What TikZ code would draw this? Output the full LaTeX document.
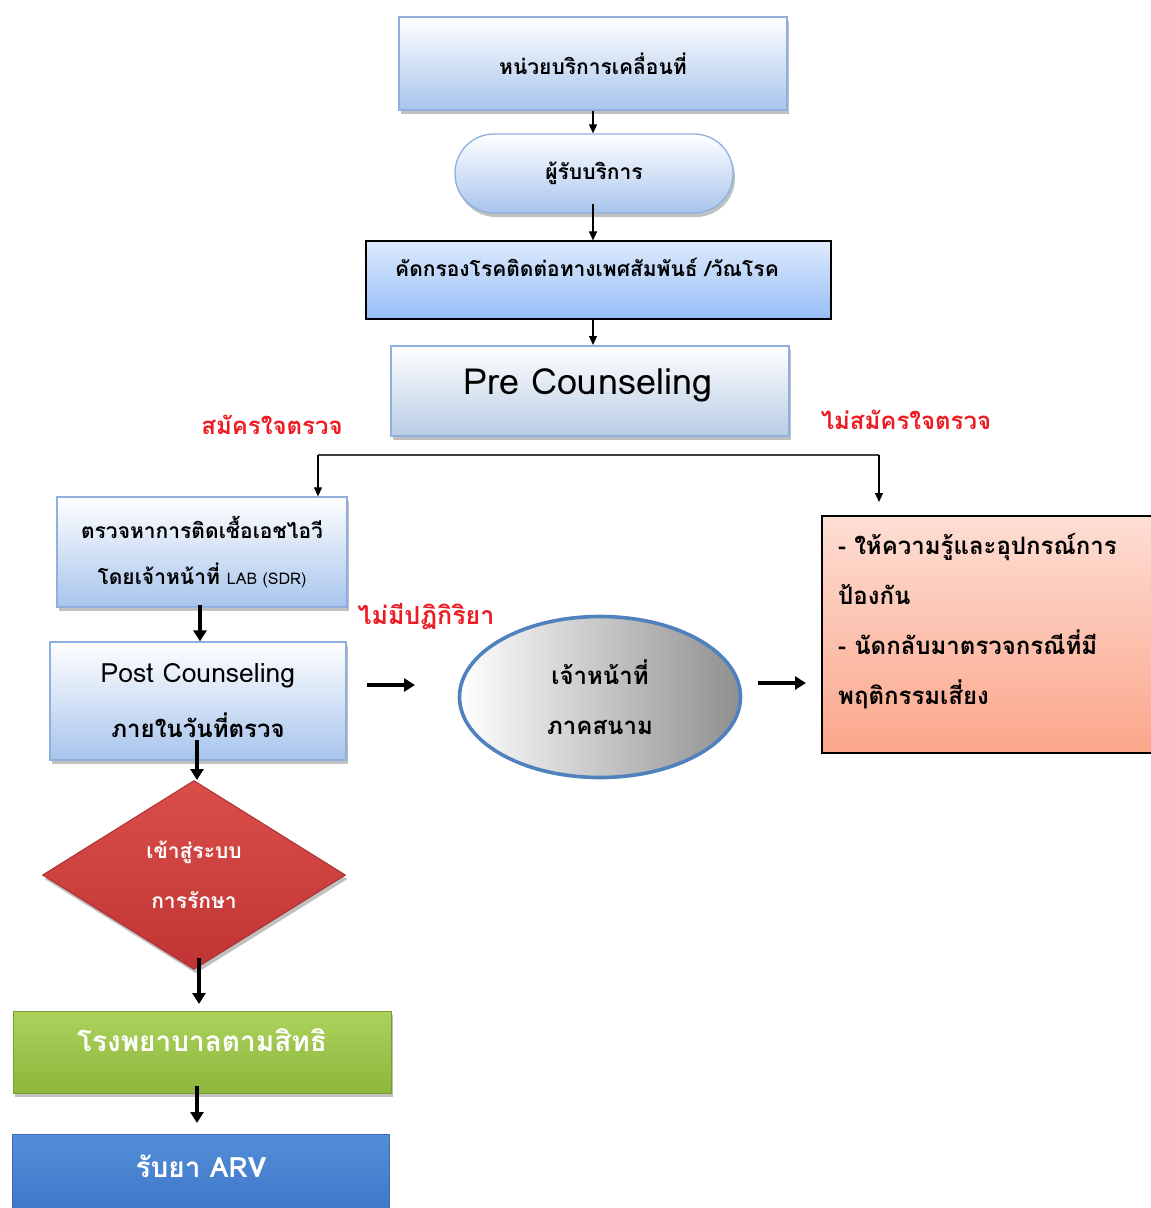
\documentclass[tikz,border=0pt]{standalone}
\usepackage{fontspec}
\newfontfamily\thai[Script=Thai]{Loma}
\usetikzlibrary{shapes.geometric,shadows,arrows.meta,calc}

\definecolor{paleblue}{RGB}{168,196,236}
\definecolor{edgeblue}{RGB}{143,176,222}
\definecolor{skyblue}{RGB}{150,190,246}
\definecolor{topsky}{RGB}{222,234,252}
\definecolor{preblue}{RGB}{184,204,228}
\definecolor{labred}{RGB}{236,28,36}
\definecolor{dmdtop}{RGB}{218,78,74}
\definecolor{dmdbot}{RGB}{192,52,52}
\definecolor{dmdedge}{RGB}{170,50,50}
\definecolor{grtop}{RGB}{172,210,92}
\definecolor{grbot}{RGB}{140,182,60}
\definecolor{gredge}{RGB}{118,158,48}
\definecolor{bltop}{RGB}{84,142,216}
\definecolor{blbot}{RGB}{56,112,196}
\definecolor{bledge}{RGB}{58,108,178}
\definecolor{ringblue}{RGB}{79,129,189}
\definecolor{pinktop}{RGB}{253,222,212}
\definecolor{pinkbot}{RGB}{251,166,138}
\definecolor{forkgray}{RGB}{64,64,64}

\tikzset{
  softshadow/.style={drop shadow={shadow xshift=2pt,shadow yshift=-4pt,fill=black!55,opacity=.45}},
  lightbox/.style={draw=edgeblue,line width=1.3pt,top color=white,bottom color=paleblue,
    inner sep=0pt,softshadow,font=\thai\bfseries\fontsize{21}{50}\selectfont,align=center},
  thinarrow/.style={draw=black,line width=1.1pt,-{Triangle[length=9pt,width=8pt]}},
  fatarrow/.style={draw=black,line width=3.2pt,-{Triangle[length=11pt,width=13pt]}},
  redlabel/.style={text=labred,inner sep=0pt},
}

\begin{document}
\begin{tikzpicture}[x=1pt,y=-1pt]
\useasboundingbox (0,0) rectangle (1151,1208);

% top column
\node[lightbox,minimum width=388pt,minimum height=93pt] (unit) at (593,63.5)
  {หน่วยบริการเคลื่อนที่};
\node[lightbox,minimum width=278pt,minimum height=79pt,rounded corners=39pt] (client) at (594,173.5)
  {ผู้รับบริการ};
\node[draw=black,line width=1.2pt,top color=topsky,bottom color=skyblue,inner sep=0pt,
  minimum width=465pt,minimum height=78pt] (screen) at (598.5,280) {};
\node[anchor=west,inner sep=0pt,font=\thai\bfseries\fontsize{21}{26}\selectfont] (screentxt)
  at (395,267) {คัดกรองโรคติดต่อทางเพศสัมพันธ์ /วัณโรค};
\node[draw=edgeblue,line width=1.3pt,top color=white,bottom color=preblue,inner sep=0pt,softshadow,
  minimum width=398pt,minimum height=90pt] (pre) at (590,391) {};
\node[inner sep=0pt,font=\thai\fontsize{36}{42}\selectfont] (pretxt) at (588,385) {Pre Counseling};

\draw[thinarrow] (unit.south -| 593,0) -- (client.north -| 593,0);
\draw[thinarrow] (593,204) -- (screen.north -| 593,0);
\draw[thinarrow] (screen.south -| 593,0) -- (593,345);

% branch labels
\node[redlabel,font=\thai\bfseries\fontsize{24}{28}\selectfont] (yes) at (272,425) {สมัครใจตรวจ};
\node[redlabel,font=\thai\bfseries\fontsize{24}{28}\selectfont] (no) at (906,420) {ไม่สมัครใจตรวจ};

% left branch
\node[lightbox,minimum width=290pt,minimum height=110pt] (lab) at (202,552)
  {ตรวจหาการติดเชื้อเอชไอวี\\[-4pt]โดยเจ้าหน้าที่ {\mdseries\fontsize{16}{20}\selectfont LAB (SDR)}};
\node[lightbox,minimum width=296pt,minimum height=118pt,font=\thai\bfseries\fontsize{24}{55}\selectfont] (post) at (198,701)
  {{\mdseries\fontsize{26.5}{30}\selectfont Post Counseling}\\ภายในวันที่ตรวจ};

% right branch
\node[draw=black,line width=1.2pt,top color=pinktop,bottom color=pinkbot,inner sep=0pt,
  minimum width=340pt,minimum height=237pt] (advice) at (992,634.5) {};
\node[anchor=west,inner sep=0pt,align=left,font=\thai\bfseries\fontsize{24}{50}\selectfont] (advicetxt) at (838,621)
  {- ให้ความรู้และอุปกรณ์การ\\ป้องกัน\\- นัดกลับมาตรวจกรณีที่มี\\พฤติกรรมเสี่ยง};

% fork below the counselling step
\coordinate (forkL) at (318,455);
\coordinate (forkR) at (879,455);
\draw[forkgray,line width=2pt] (forkL) -- (forkR);
\draw[thinarrow] (forkL) -- (lab.north -| forkL);
\draw[thinarrow] (forkR) -- (879,502);

% non-reactive path
\node[redlabel,font=\thai\bfseries\fontsize{25}{28}\selectfont] (nonreact) at (426,617) {ไม่มีปฏิกิริยา};
\node[ellipse,draw=ringblue,line width=3.6pt,left color=white,right color=black!44,
  minimum width=281pt,minimum height=161pt,inner sep=0pt,align=center,
  font=\thai\bfseries\fontsize{24}{50}\selectfont] (field) at (600,697)
  {เจ้าหน้าที่\\ภาคสนาม};
\draw[fatarrow] (367,685) -- (415,685);
\draw[fatarrow] (758,683) -- (806,683);

% treatment column
\node[diamond,draw=dmdedge,line width=1pt,top color=dmdtop,bottom color=dmdbot,
  minimum width=303pt,minimum height=189pt,inner sep=0pt,align=center,text=white,softshadow,
  font=\thai\bfseries\fontsize{21}{50}\selectfont] (treat) at (194,875)
  {เข้าสู่ระบบ\\การรักษา};
\node[draw=gredge,line width=1pt,top color=grtop,bottom color=grbot,inner sep=0pt,softshadow,
  minimum width=378pt,minimum height=82pt] (hosp) at (202,1052) {};
\node[inner sep=0pt,text=white,font=\thai\bfseries\fontsize{28}{34}\selectfont] (hosptxt)
  at (202,1040) {โรงพยาบาลตามสิทธิ};
\node[draw=bledge,line width=1pt,top color=bltop,bottom color=blbot,inner sep=0pt,
  minimum width=377pt,minimum height=100pt] (arv) at (200.5,1184) {};
\node[inner sep=0pt,text=white,font=\thai\bfseries\fontsize{28}{32}\selectfont] (arvtxt)
  at (201,1166) {รับยา ARV};

\draw[fatarrow] (200,605) -- (post.north -| 200,0);
\draw[fatarrow] (197,740) -- (treat.north -| 197,0);
\draw[fatarrow] (199,958) -- (199,1004);
\draw[fatarrow] (197,1086) -- (197,1123);
\end{tikzpicture}
\end{document}
